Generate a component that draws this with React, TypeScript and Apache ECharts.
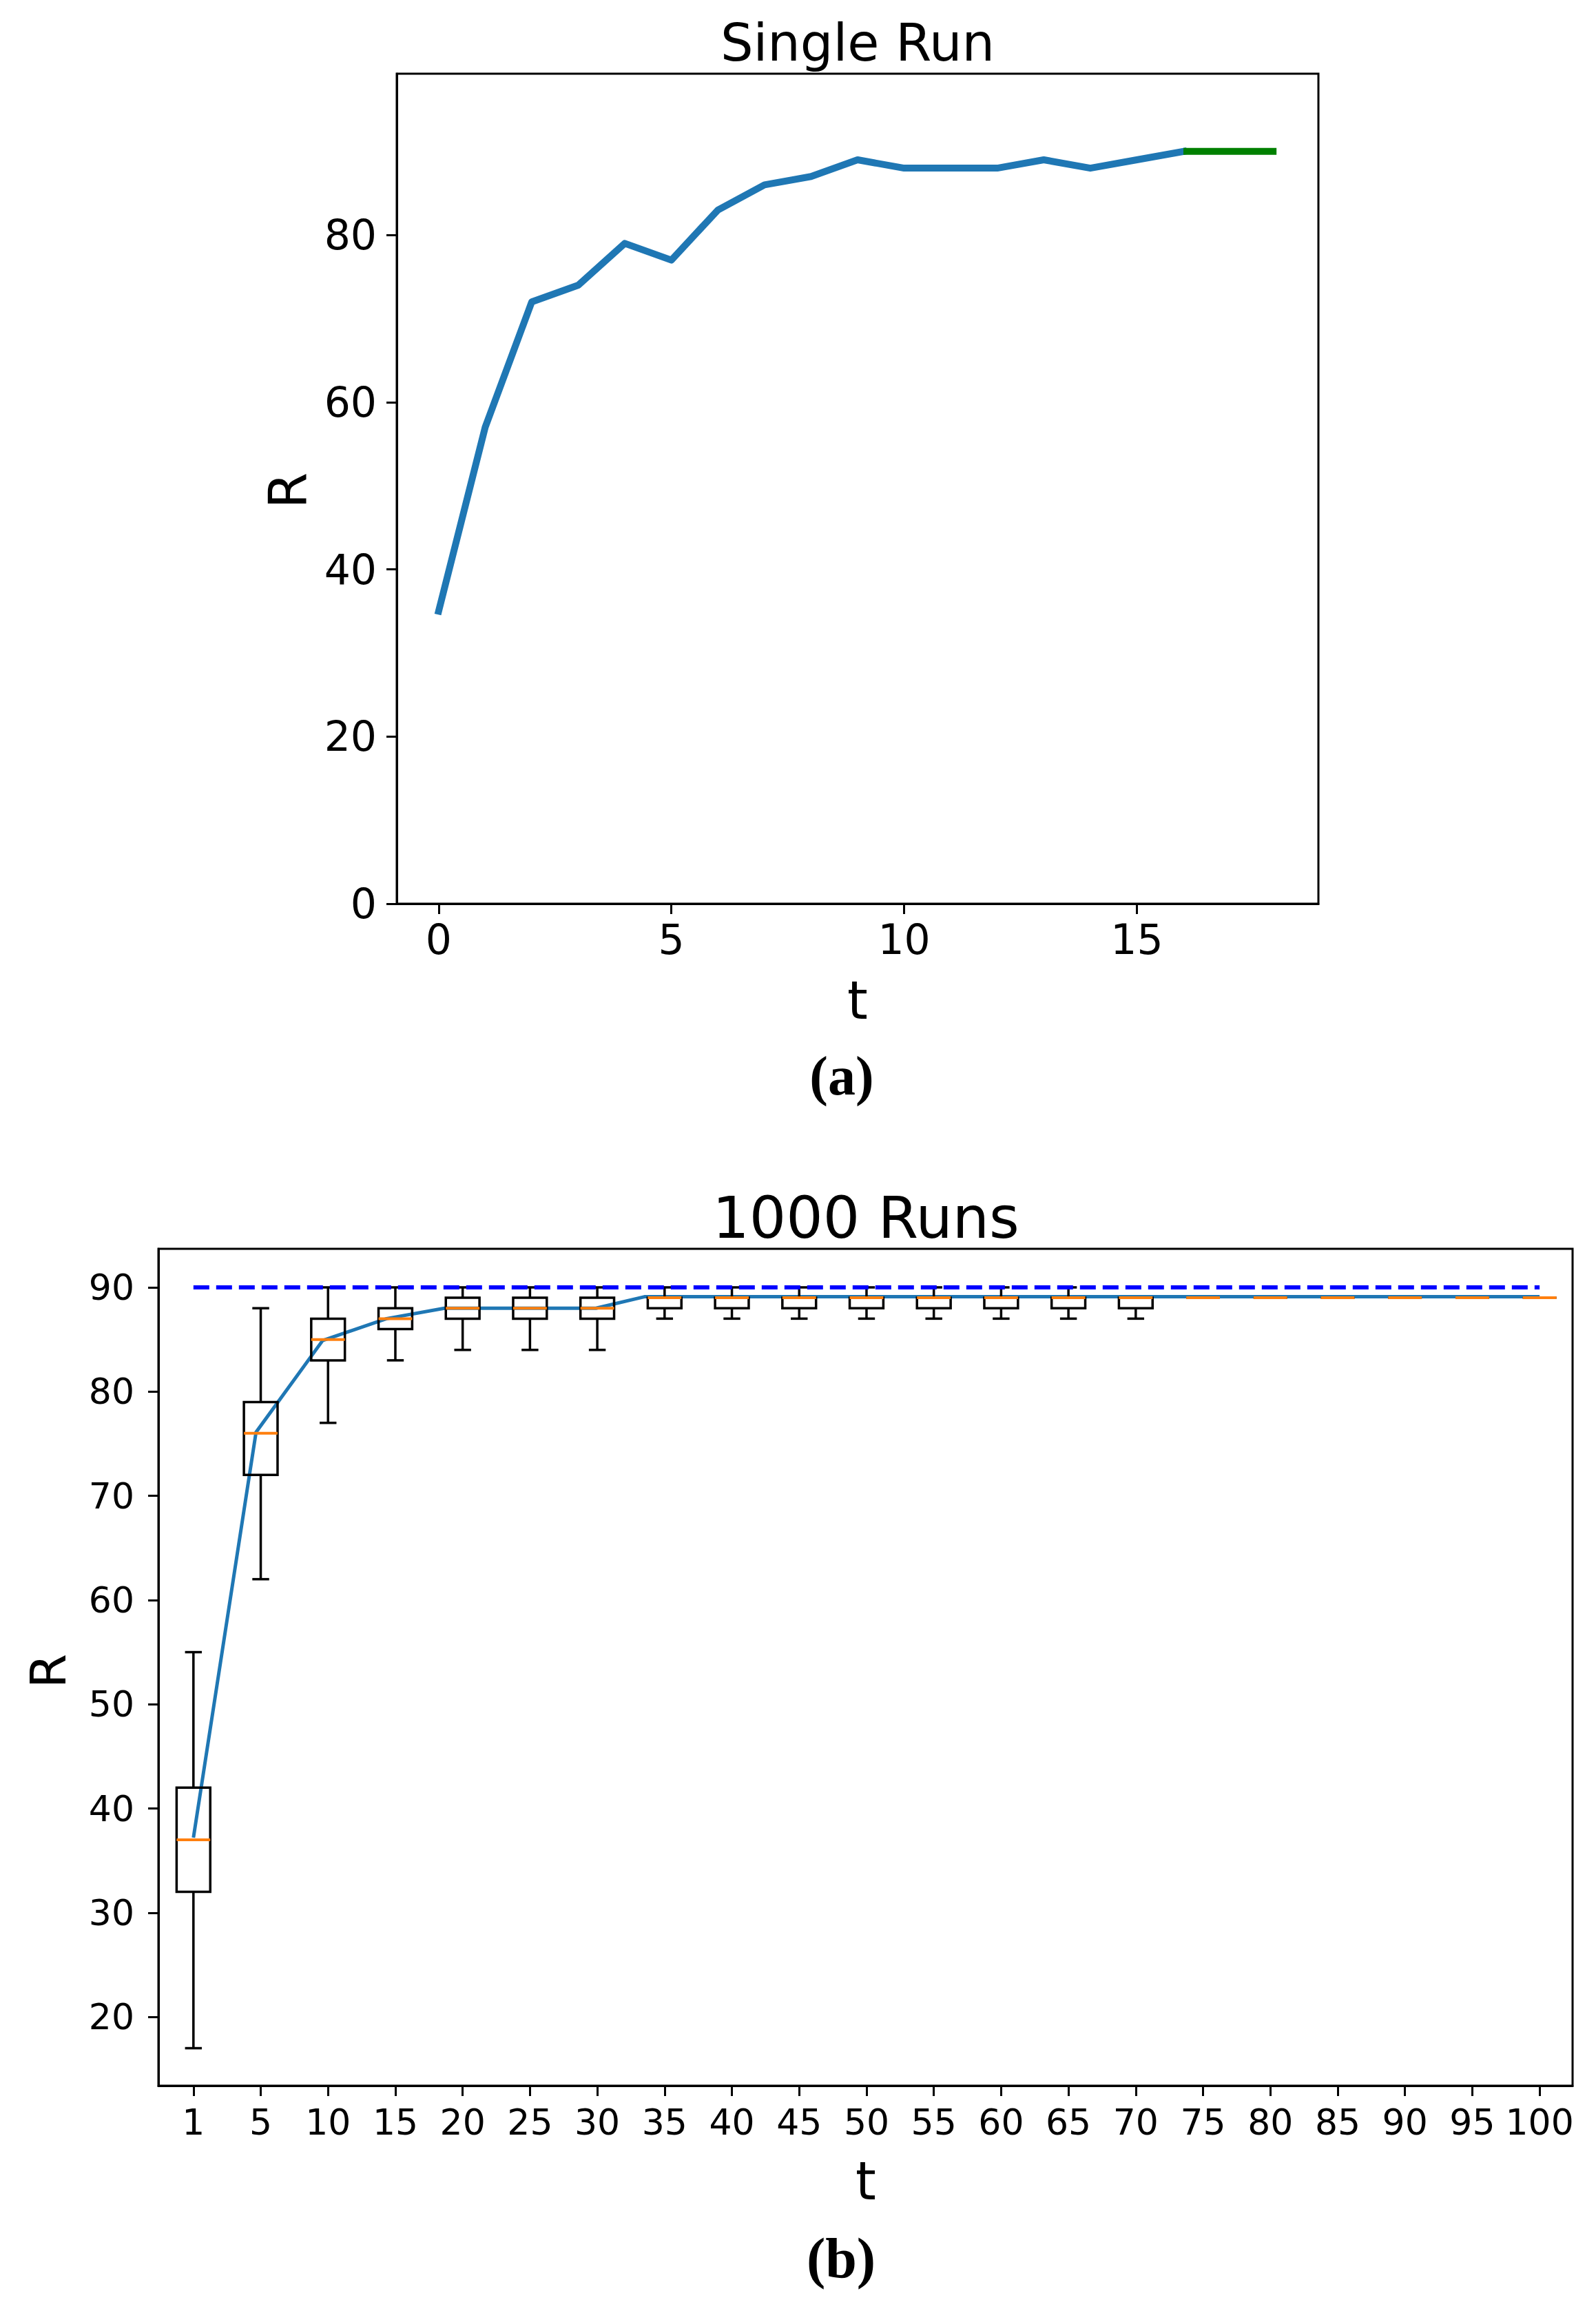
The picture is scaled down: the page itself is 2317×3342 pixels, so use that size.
import React, { useEffect, useRef } from 'react';
import * as echarts from 'echarts';

// ---------- (a) Single Run ----------
const runT = [0, 1, 2, 3, 4, 5, 6, 7, 8, 9, 10, 11, 12, 13, 14, 15, 16];
const runR = [35, 57, 72, 74, 79, 77, 83, 86, 87, 89, 88, 88, 88, 89, 88, 89, 90];
const finalT = [16, 17, 18];
const finalR = [90, 90, 90];
const topXTicks = [0, 5, 10, 15];
const topYTicks = [0, 20, 40, 60, 80];

// ---------- (b) 1000 Runs ----------
const tLabels = ['1', '5', '10', '15', '20', '25', '30', '35', '40', '45', '50', '55', '60', '65', '70', '75', '80', '85', '90', '95', '100'];
const boxMin = [17, 62, 77, 83, 84, 84, 84, 87, 87, 87, 87, 87, 87, 87, 87, 89, 89, 89, 89, 89, 89];
const boxQ1 = [32, 72, 83, 86, 87, 87, 87, 88, 88, 88, 88, 88, 88, 88, 88, 89, 89, 89, 89, 89, 89];
const boxMed = [37, 76, 85, 87, 88, 88, 88, 89, 89, 89, 89, 89, 89, 89, 89, 89, 89, 89, 89, 89, 89];
const boxQ3 = [42, 79, 87, 88, 89, 89, 89, 89, 89, 89, 89, 89, 89, 89, 89, 89, 89, 89, 89, 89, 89];
const boxMax = [55, 88, 90, 90, 90, 90, 90, 90, 90, 90, 90, 90, 90, 90, 89, 89, 89, 89, 89, 89, 89];
// mean curve, x in box-position units
const meanPos = [1, 1.93, 2.92, 3.87, 4.73, 6.98, 7.7, 21];
const meanVal = [37.2, 76.1, 84.9, 87.0, 88.0, 88.0, 89.1, 89.1];
const refPos = [1, 21];
const refVal = [90, 90];
const bottomYTicks = [20, 30, 40, 50, 60, 70, 80, 90];

const FONT = 'DejaVu Sans';

export default function App() {
  const ref = useRef<HTMLDivElement>(null);

  useEffect(() => {
    if (!ref.current) return;
    const chart = echarts.init(ref.current, null, { renderer: 'svg' });

    const positions = tLabels.map((_, i) => i + 1);
    const boxData = positions.map((p, i) => [p, boxMin[i], boxQ1[i], boxMed[i], boxQ3[i], boxMax[i]]);

    const axisCommon = {
      splitLine: { show: false },
      axisLine: { show: true, onZero: false, lineStyle: { color: '#000', width: 3 } },
    };

    const option: any = {
      animation: false,
      backgroundColor: '#fff',
      grid: [
        { left: 576, top: 107, width: 1338, height: 1205, show: true, borderColor: '#000', borderWidth: 3, backgroundColor: 'transparent' },
        { left: 230, top: 1813, width: 2053, height: 1215, show: true, borderColor: '#000', borderWidth: 3, backgroundColor: 'transparent' },
      ],
      xAxis: [
        {
          gridIndex: 0, type: 'value', min: -0.9, max: 18.9, ...axisCommon,
          axisTick: { show: true, length: 15, lineStyle: { color: '#000', width: 3 }, customValues: topXTicks },
          axisLabel: { customValues: topXTicks, fontSize: 60, color: '#000', fontFamily: FONT, margin: 22 },
        },
        {
          gridIndex: 1, type: 'value', min: 0.48, max: 21.49, ...axisCommon,
          axisTick: { show: true, length: 15, lineStyle: { color: '#000', width: 3 }, customValues: positions },
          axisLabel: {
            customValues: positions, fontSize: 52, color: '#000', fontFamily: FONT, margin: 27,
            formatter: (v: number) => tLabels[Math.round(v) - 1] ?? '',
          },
        },
      ],
      yAxis: [
        {
          gridIndex: 0, type: 'value', min: 0, max: 99.3, ...axisCommon,
          axisTick: { show: true, length: 15, lineStyle: { color: '#000', width: 3 }, customValues: topYTicks },
          axisLabel: { customValues: topYTicks, fontSize: 60, color: '#000', fontFamily: FONT, margin: 29 },
        },
        {
          gridIndex: 1, type: 'value', min: 13.4, max: 93.7, ...axisCommon,
          axisTick: { show: true, length: 15, lineStyle: { color: '#000', width: 3 }, customValues: bottomYTicks },
          axisLabel: { customValues: bottomYTicks, fontSize: 52, color: '#000', fontFamily: FONT, margin: 35 },
        },
      ],
      series: [
        {
          name: 'single run', type: 'line', xAxisIndex: 0, yAxisIndex: 0,
          data: runT.map((t, i) => [t, runR[i]]),
          symbol: 'none', color: '#1f77b4',
          lineStyle: { color: '#1f77b4', width: 10, join: 'round', cap: 'square' }, z: 2,
        },
        {
          name: 'final', type: 'line', xAxisIndex: 0, yAxisIndex: 0,
          data: finalT.map((t, i) => [t, finalR[i]]),
          symbol: 'none', color: '#008000',
          lineStyle: { color: '#008000', width: 10, cap: 'butt' }, z: 3,
        },
        {
          name: 'mean', type: 'line', xAxisIndex: 1, yAxisIndex: 1,
          data: meanPos.map((p, i) => [p, meanVal[i]]),
          symbol: 'none', color: '#1f77b4',
          lineStyle: { color: '#1f77b4', width: 5, join: 'round' }, z: 2,
        },
        {
          name: 'boxes', type: 'custom', xAxisIndex: 1, yAxisIndex: 1,
          data: boxData,
          encode: { x: 0, y: [1, 2, 3, 4, 5] },
          z: 3,
          renderItem: (params: any, api: any) => {
            const x = api.value(0);
            const lo = api.coord([x, api.value(1)]);
            const q1 = api.coord([x, api.value(2)]);
            const med = api.coord([x, api.value(3)]);
            const q3 = api.coord([x, api.value(4)]);
            const hi = api.coord([x, api.value(5)]);
            const band = api.size([1, 0])[0];
            const bw = band * 0.5;
            const cw = band * 0.25;
            const cx = med[0];
            const st = { stroke: '#000', lineWidth: 3.5, fill: null };
            return {
              type: 'group',
              children: [
                { type: 'line', shape: { x1: cx, y1: q3[1], x2: cx, y2: hi[1] }, style: st },
                { type: 'line', shape: { x1: cx, y1: q1[1], x2: cx, y2: lo[1] }, style: st },
                { type: 'line', shape: { x1: cx - cw / 2, y1: hi[1], x2: cx + cw / 2, y2: hi[1] }, style: st },
                { type: 'line', shape: { x1: cx - cw / 2, y1: lo[1], x2: cx + cw / 2, y2: lo[1] }, style: st },
                { type: 'rect', shape: { x: cx - bw / 2, y: q3[1], width: bw, height: q1[1] - q3[1] }, style: { stroke: '#000', lineWidth: 3.5, fill: 'none' } },
                { type: 'line', shape: { x1: cx - bw / 2, y1: med[1], x2: cx + bw / 2, y2: med[1] }, style: { stroke: '#ff7f0e', lineWidth: 4 } },
              ],
            };
          },
        },
        {
          name: 'target', type: 'line', xAxisIndex: 1, yAxisIndex: 1,
          data: refPos.map((p, i) => [p, refVal[i]]),
          symbol: 'none', color: '#0000ff',
          lineStyle: { color: '#0000ff', width: 6, type: [23, 10] }, z: 4,
        },
      ],
      graphic: [
        { type: 'text', x: 1245, y: 62, style: { text: 'Single Run', fontSize: 75, fontFamily: FONT, fill: '#000', align: 'center', verticalAlign: 'middle' } },
        { type: 'text', x: 418, y: 712, rotation: Math.PI / 2, style: { text: 'R', fontSize: 76, fontFamily: FONT, fill: '#000', align: 'center', verticalAlign: 'middle' } },
        { type: 'text', x: 1245, y: 1452, style: { text: 't', fontSize: 76, fontFamily: FONT, fill: '#000', align: 'center', verticalAlign: 'middle' } },
        { type: 'text', x: 1222, y: 1562, style: { text: '(a)', fontSize: 80, fontFamily: 'Liberation Serif', fontWeight: 'bold', fill: '#000', align: 'center', verticalAlign: 'middle' } },
        { type: 'text', x: 1257, y: 1768, style: { text: '1000 Runs', fontSize: 84, fontFamily: FONT, fill: '#000', align: 'center', verticalAlign: 'middle' } },
        { type: 'text', x: 70, y: 2426, rotation: Math.PI / 2, style: { text: 'R', fontSize: 72, fontFamily: FONT, fill: '#000', align: 'center', verticalAlign: 'middle' } },
        { type: 'text', x: 1257, y: 3166, style: { text: 't', fontSize: 76, fontFamily: FONT, fill: '#000', align: 'center', verticalAlign: 'middle' } },
        { type: 'text', x: 1221, y: 3278, style: { text: '(b)', fontSize: 82, fontFamily: 'Liberation Serif', fontWeight: 'bold', fill: '#000', align: 'center', verticalAlign: 'middle' } },
      ],
    };

    chart.setOption(option);
    return () => chart.dispose();
  }, []);

  return (
    <div
      ref={ref}
      style={{ position: 'absolute', left: 0, top: 0, width: 2317, height: 3342, background: '#fff' }}
    />
  );
}
